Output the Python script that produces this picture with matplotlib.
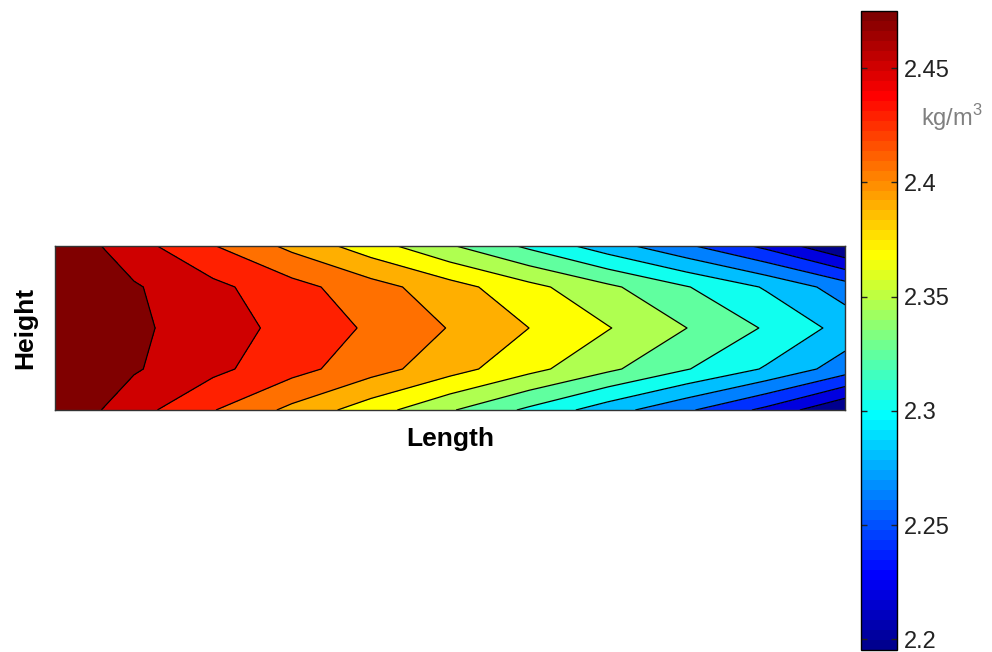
import numpy as np
import matplotlib
matplotlib.use("Agg")
import matplotlib.pyplot as plt
from matplotlib.colors import ListedColormap, Normalize
from matplotlib.cm import ScalarMappable

plt.rcParams["font.family"] = ["Liberation Sans", "DejaVu Sans"]
plt.rcParams["mathtext.fontset"] = "custom"
plt.rcParams["mathtext.rm"] = "Liberation Sans"

# density field (kg/m^3) on a coarse length x height grid
length_pos = [0.0, 0.1, 0.2, 0.3, 0.4, 0.5, 0.6, 0.7, 0.8, 0.9, 1.0]
height_pos = [0.0, 0.25, 0.5, 0.75, 1.0]
row_bottom = [2.472, 2.443, 2.416, 2.390, 2.364, 2.337, 2.311, 2.284, 2.258, 2.230, 2.195]
row_lower  = [2.474, 2.457, 2.440, 2.422, 2.403, 2.383, 2.361, 2.339, 2.316, 2.293, 2.265]
row_middle = [2.4752, 2.459, 2.444, 2.429, 2.412, 2.394, 2.375, 2.356, 2.335, 2.313, 2.288]
row_upper  = [2.474, 2.457, 2.440, 2.422, 2.403, 2.383, 2.361, 2.339, 2.316, 2.293, 2.265]
row_top    = [2.472, 2.443, 2.416, 2.390, 2.364, 2.337, 2.311, 2.284, 2.258, 2.230, 2.195]

contour_levels = [2.19, 2.215, 2.235, 2.255, 2.275, 2.295, 2.315, 2.335,
                  2.355, 2.375, 2.395, 2.415, 2.435, 2.455, 2.48]
cbar_min, cbar_max = 2.1953, 2.4752
cbar_ticks = [2.2, 2.25, 2.3, 2.35, 2.4, 2.45]
cbar_ticklabels = ["2.2", "2.25", "2.3", "2.35", "2.4", "2.45"]


def matlab_jet(n=64):
    # same construction as MATLAB's jet(n)
    m = int(np.ceil(n / 4))
    u = np.concatenate([np.arange(1, m + 1) / m, np.ones(m - 1), np.arange(m, 0, -1) / m])
    g = int(np.ceil(m / 2)) - (1 if n % 4 == 1 else 0) + np.arange(1, len(u) + 1)
    r = g + m
    b = g - m
    J = np.zeros((n, 3))
    for ch, idx in enumerate((r, g, b)):
        ok = (idx >= 1) & (idx <= n)
        J[idx[ok] - 1, ch] = u[ok]
    return J


jet_rgb = matlab_jet(64)
jet64 = ListedColormap(jet_rgb)
n_regions = len(contour_levels) - 1
fill_colors = [jet_rgb[int(round(k / (n_regions - 1) * 63))] for k in range(n_regions)]

Z = np.array([row_bottom, row_lower, row_middle, row_upper, row_top])
X, Y = np.meshgrid(length_pos, height_pos)

fig = plt.figure(figsize=(9.92, 6.52), dpi=100)
W, H = 992, 652

ax = fig.add_axes([55 / W, 1 - 410 / H, 790 / W, 164 / H])
ax.contourf(X, Y, Z, levels=contour_levels, colors=fill_colors)
ax.contour(X, Y, Z, levels=contour_levels[1:-1], colors="black", linewidths=0.9)
ax.set_xlim(0, 1)
ax.set_ylim(0, 1)
ax.set_xticks([])
ax.set_yticks([])
for sp in ax.spines.values():
    sp.set_linewidth(1.0)
    sp.set_color("#333333")
ax.set_xlabel("Length", fontsize=19, fontweight="bold", labelpad=12)
ax.set_ylabel("Height", fontsize=19, fontweight="bold", labelpad=13)

cax = fig.add_axes([860.5 / W, 2 / H, 36 / W, 639.3 / H])
sm = ScalarMappable(norm=Normalize(cbar_min, cbar_max), cmap=jet64)
cb = fig.colorbar(sm, cax=cax)
cb.outline.set_linewidth(1.0)
cb.set_ticks(cbar_ticks)
cb.set_ticklabels(cbar_ticklabels)
cax.tick_params(axis="y", direction="in", left=True, right=True,
                length=4.5, width=1.0, labelsize=17, pad=5, colors="#222222")

fig.text(921 / W, 1 - 118 / H, r"kg/m$^{\mathrm{3}}$", fontsize=17,
         color="#808080", ha="left", va="center")

fig.savefig("out.png", dpi=100)
